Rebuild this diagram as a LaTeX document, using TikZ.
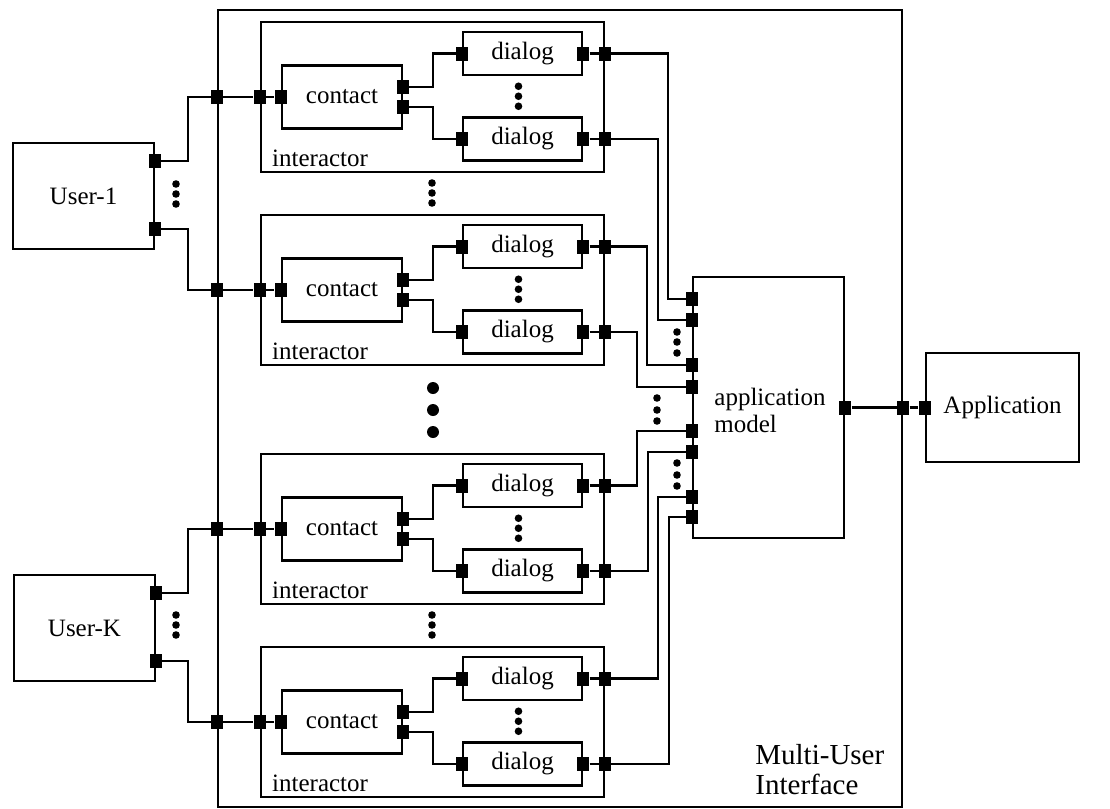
\documentclass[tikz,border=0pt]{standalone}
\usepackage{fontspec}
\setmainfont{Liberation Serif}
\usepackage{tikz}
\usetikzlibrary{calc}

\begin{document}
\begin{tikzpicture}[
  x=0.5pt, y=-0.5pt,
  font=\fontsize{12.5}{13.5}\selectfont,
  box/.style={draw, line width=1.2pt, inner sep=0pt},
  usr/.style={box, minimum width=70.5pt, minimum height=53pt},
  dlg/.style={box, minimum width=59.5pt, minimum height=21.5pt},
  port/.style={fill=black, minimum width=6pt, minimum height=7pt, inner sep=0pt},
  wire/.style={line width=1.2pt}
]

\useasboundingbox (0,0) rectangle (1110,809);

% outer frame
\node[box, minimum width=342pt, minimum height=398.5pt] (mui) at (560,408.5) {};
\node[anchor=south west, align=left, inner sep=0pt, font=\fontsize{14.5}{15}\selectfont] (muilab) at (755,795) {Multi-User\\Interface};

% users
\node[usr] (u1) at (83.5,196) {User-1};
\node[usr] (uk) at (84.5,628) {User-K};
\node[port] (u1a) at ($(u1.north east)+(0,19)$) {};
\node[port] (u1b) at ($(u1.south east)+(0,-21)$) {};
\node[port] (uka) at ($(uk.north east)+(0,19)$) {};
\node[port] (ukb) at ($(uk.south east)+(0,-21)$) {};
\foreach \y in {184,194,204,615,625,635}
  \fill (176,\y) circle (1.9pt);

% interactors
\foreach \i/\off in {1/0,2/193,3/432,4/625}{
  \node[box, minimum width=171.5pt, minimum height=75pt] (int\i) at (432.5,97+\off) {};
  \node[anchor=base west, inner sep=0pt] (lab\i) at ($(int\i.south west)+(12,-7)$) {interactor};
  \node[box, minimum width=60pt, minimum height=31.5pt] (con\i) at (342,97+\off) {contact};
  \node[dlg] (dla\i) at (522.5,53.5+\off) {dialog};
  \node[dlg] (dlb\i) at (522.5,139+\off) {dialog};
  \node[port] (pci\i) at (con\i.west) {};
  \node[port] (pca\i) at ($(con\i.east)+(0,-10)$) {};
  \node[port] (pcb\i) at ($(con\i.east)+(0,10)$) {};
  \node[port] (pdai\i) at (dla\i.west) {};
  \node[port] (pdao\i) at (dla\i.east) {};
  \node[port] (pdbi\i) at (dlb\i.west) {};
  \node[port] (pdbo\i) at (dlb\i.east) {};
  \node[port] (pii\i) at (int\i.west) {};
  \node[port] (pia\i) at (int\i.east |- dla\i) {};
  \node[port] (pib\i) at (int\i.east |- dlb\i) {};
  \node[port] (mp\i) at (mui.west |- int\i) {};
  \draw[wire] (mp\i) -- (pii\i) -- (pci\i);
  \draw[wire] (pca\i.center) -- ++(30,0) |- (pdai\i.center);
  \draw[wire] (pcb\i.center) -- ++(30,0) |- (pdbi\i.center);
  \draw[wire] (pdao\i) -- (pia\i);
  \draw[wire] (pdbo\i) -- (pib\i);
  \foreach \y in {-10,0,10}
    \fill ($(dla\i.south)!.5!(dlb\i.north)+(-4,\y)$) circle (1.9pt);
}
\foreach \y in {183,193,203,615,625,635}
  \fill (432,\y) circle (1.9pt);
\foreach \y in {388,410,432}
  \fill (433,\y) circle (3pt);

% users to frame
\draw[wire] (u1a.center) -- ++(33,0) |- (mp1.center);
\draw[wire] (u1b.center) -- ++(33,0) |- (mp2.center);
\draw[wire] (uka.center) -- ++(32,0) |- (mp3.center);
\draw[wire] (ukb.center) -- ++(32,0) |- (mp4.center);

% application model
\node[box, minimum width=75.5pt, minimum height=130.5pt] (am) at (768.5,407.5) {};
\node[anchor=west, align=left, inner sep=0pt] (amlab) at (714,410) {application\\model};
\foreach \k/\y in {1/299,2/320,3/365,4/387,5/431,6/452,7/497,8/517}
  \node[port] (am\k) at (am.west |- 0,\y) {};
\foreach \s/\t/\d in {pia1/am1/63, pib1/am2/53, pia2/am3/42, pib2/am4/32,
                      pia3/am5/32, pib3/am6/43, pia4/am7/53, pib4/am8/64}
  \draw[wire] (\s.center) -- ++(\d,0) |- (\t.center);
\foreach \x/\y in {677/332,677/342,677/353,657/398,657/410,657/421,677/463,677/475,677/486}
  \fill (\x,\y) circle (1.9pt);

% application
\node[port] (amo) at (am.east) {};
\node[port] (pmo) at (mui.east |- am.east) {};
\node[box, minimum width=76.5pt, minimum height=54.5pt] (app) at (1002.5,407.5) {Application};
\node[port] (pai) at (app.west) {};
\draw[wire] (amo) -- (pmo) -- (pai);

\end{tikzpicture}
\end{document}
